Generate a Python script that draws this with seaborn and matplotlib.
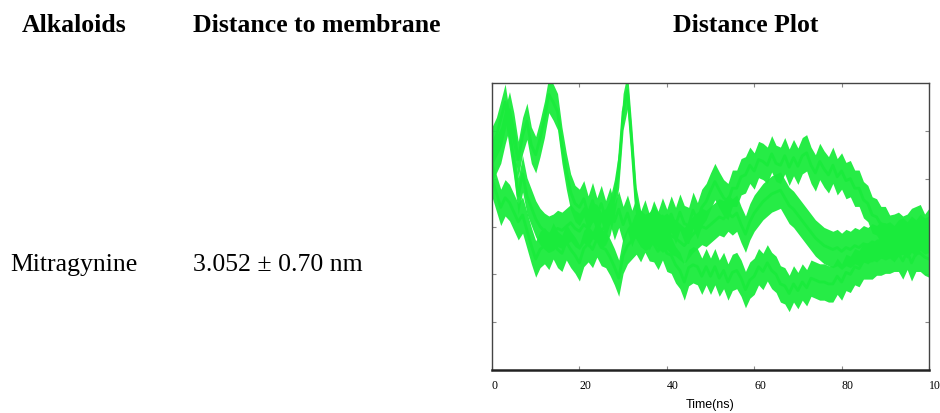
import numpy as np
import pandas as pd
import matplotlib
matplotlib.use('Agg')
import matplotlib.pyplot as plt
import matplotlib.transforms as mtransforms
import seaborn as sns

# ── data (distance in nm, 1 ns steps) ────────────────────────────────
time_ns = list(range(0, 101))

run_upper = [3.66, 3.75, 3.85, 4.05, 4.22, 4.00, 3.70, 3.95, 4.10, 3.85,
             3.75, 3.92, 4.12, 4.38, 4.30, 4.20, 3.85, 3.58, 3.36, 3.24,
             3.20, 3.29, 3.13, 3.27, 3.11, 3.24, 3.08, 3.22, 3.05, 3.18,
             3.02, 3.14, 2.98, 3.11, 2.97, 3.09, 2.94, 3.08, 2.97, 3.11,
             2.99, 3.13, 3.01, 3.15, 3.03, 3.01, 3.17, 3.06, 3.20, 3.26,
             3.37, 3.47, 3.38, 3.30, 3.26, 3.40, 3.40, 3.52, 3.54, 3.64,
             3.58, 3.70, 3.68, 3.64, 3.76, 3.66, 3.64, 3.74, 3.62, 3.72,
             3.63, 3.74, 3.77, 3.64, 3.56, 3.68, 3.60, 3.54, 3.64, 3.52,
             3.58, 3.48, 3.50, 3.40, 3.40, 3.28, 3.24, 3.12, 3.10, 3.02,
             3.02, 2.93, 2.94, 2.96, 2.92, 2.94, 3.00, 3.02, 3.04, 2.94,
             3.00]

run_lower = [3.50, 3.35, 3.20, 3.30, 3.25, 3.15, 3.05, 3.12, 2.96, 2.80,
             2.66, 2.76, 2.80, 2.74, 2.85, 2.76, 2.72, 2.84, 2.76, 2.70,
             2.62, 2.77, 2.82, 2.76, 2.87, 2.78, 2.76, 2.68, 2.58, 2.46,
             2.70, 2.80, 2.85, 2.90, 2.82, 2.92, 2.83, 2.82, 2.74, 2.84,
             2.72, 2.70, 2.60, 2.54, 2.42, 2.57, 2.60, 2.58, 2.48, 2.58,
             2.48, 2.58, 2.46, 2.54, 2.42, 2.52, 2.54, 2.46, 2.34, 2.44,
             2.48, 2.58, 2.53, 2.62, 2.54, 2.50, 2.40, 2.38, 2.30, 2.40,
             2.33, 2.42, 2.36, 2.46, 2.44, 2.42, 2.42, 2.40, 2.40, 2.48,
             2.42, 2.52, 2.50, 2.58, 2.56, 2.64, 2.64, 2.64, 2.68, 2.68,
             2.70, 2.70, 2.72, 2.72, 2.64, 2.74, 2.62, 2.72, 2.72, 2.68,
             2.66]

run_middle = [3.85, 3.95, 4.12, 4.30, 4.00, 3.70, 3.32, 3.55, 3.32, 3.20,
              3.08, 3.00, 2.95, 2.92, 2.94, 2.98, 2.96, 3.00, 3.04, 2.98,
              2.95, 3.02, 2.98, 3.06, 3.04, 2.96, 3.00, 3.10, 3.30, 3.60,
              4.20, 4.42, 3.85, 3.22, 2.98, 2.94, 2.96, 3.02, 2.96, 2.92,
              2.95, 2.90, 2.88, 2.84, 2.80, 2.86, 2.92, 2.96, 3.00, 2.98,
              3.02, 3.06, 3.10, 3.08, 3.14, 3.10, 3.14, 3.02, 2.92, 3.05,
              3.14, 3.20, 3.26, 3.30, 3.34, 3.36, 3.38, 3.30, 3.22, 3.18,
              3.12, 3.06, 3.00, 2.94, 2.88, 2.84, 2.80, 2.78, 2.76, 2.78,
              2.74, 2.78, 2.76, 2.80, 2.78, 2.82, 2.80, 2.84, 2.82, 2.86,
              2.84, 2.86, 2.82, 2.88, 2.90, 2.86, 2.92, 2.88, 2.94, 2.90,
              2.92]

run_names = ['run 1', 'run 2', 'run 3']
x_ticks = [0, 20, 40, 60, 80, 100]
y_ticks = [2.0, 2.5, 3.0, 3.5, 4.0]

alkaloid = 'Mitragynine'
distance_text = '3.052 \u00b1 0.70 nm'

GREEN = '#1aeb3c'
SERIF = 'Liberation Serif'

df = pd.DataFrame({
    'time': time_ns * 3,
    'dist': run_upper + run_lower + run_middle,
    'run': np.repeat(run_names, len(time_ns)),
})

sns.set_style('white')
fig = plt.figure(figsize=(9.4, 4.13), dpi=100)

# ── table text ───────────────────────────────────────────────────────
head_y = 1 - 31.7 / 413
row_y = 1 - 270.7 / 413
txt = dict(family=SERIF, fontsize=18.5, va='baseline', color='black')
fig.text(22 / 940, head_y, 'Alkaloids', fontweight='bold', **txt)
fig.text(193 / 940, head_y, 'Distance to membrane', fontweight='bold', **txt)
fig.text(673 / 940, head_y, 'Distance Plot', fontweight='bold', **txt)
fig.text(10 / 940, row_y, alkaloid, **txt)
fig.text(193 / 940, row_y, distance_text, **txt)

# ── distance plot ────────────────────────────────────────────────────
ax = fig.add_axes([492 / 940, 1 - 370 / 413, 437 / 940, 287 / 413])
for name in run_names:
    sub = df[df['run'] == name]
    ax.fill_between(sub['time'], sub['dist'] - 0.19, sub['dist'] + 0.19,
                    color=GREEN, linewidth=0, alpha=0.95)
sns.lineplot(data=df, x='time', y='dist', hue='run', palette=[GREEN] * 3,
             linewidth=2.0, legend=False, ax=ax)

ax.set_xlim(0, 100)
ax.set_ylim(1.5, 4.5)
ax.set_xticks(x_ticks)
ax.set_yticks(y_ticks)
ax.set_yticklabels([])
ax.set_xticklabels([str(t) for t in x_ticks], family=SERIF, fontsize=8.5,
                   ha='left', color='black')
# labels in the source start a little left of their tick
shift = mtransforms.ScaledTranslation(-3 / 100, 0, fig.dpi_scale_trans)
for lab in ax.get_xticklabels():
    lab.set_transform(lab.get_transform() + shift)
ax.tick_params(direction='in', length=3, width=0.8, color='#888888',
               top=True, right=True, left=True, bottom=True, pad=7)
for side in ['left', 'right', 'top']:
    ax.spines[side].set_color('#444444')
    ax.spines[side].set_linewidth(1.0)
ax.spines['bottom'].set_color('#222222')
ax.spines['bottom'].set_linewidth(1.8)
ax.set_ylabel('')
ax.set_xlabel('Time(ns)', family='Liberation Sans', fontsize=9, labelpad=5,
              color='black')

plt.savefig('out.png', dpi=100)
plt.close()
